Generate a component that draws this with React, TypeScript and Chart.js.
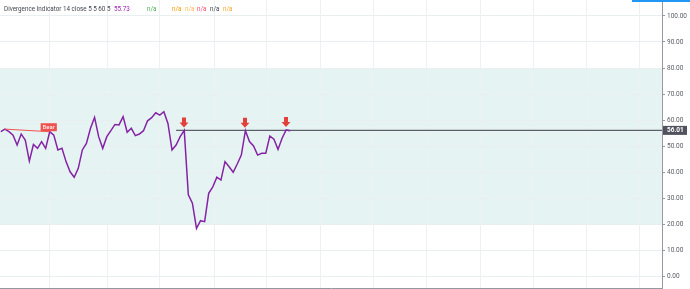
import React, { useEffect, useRef } from "react";
import { Chart, registerables } from "chart.js";
Chart.register(...registerables);

// ---- data ----
const oscValues = [
  55.5, 56.5, 55.5, 54.2, 50.4, 54.6, 52.3, 44.2, 50.6, 49.1, 51.7, 49.1,
  55.5, 54.2, 48.5, 49.1, 44.0, 40.1, 38.0, 41.4, 48.5, 51.0, 56.8, 61.0,
  53.6, 49.1, 53.6, 55.9, 58.3, 58.1, 61.3, 55.3, 56.8, 54.0, 54.6, 55.9,
  59.7, 60.9, 62.8, 61.9, 63.2, 58.7, 48.5, 50.4, 53.6, 56.0, 31.2, 28.0,
  18.3, 21.3, 20.9, 31.8, 34.3, 38.0, 36.9, 44.0, 42.0, 39.9, 43.1, 46.5,
  55.9, 51.7, 50.0, 46.5, 47.2, 47.2, 53.8, 52.6, 48.7, 53.0, 56.2, 55.9,
];
const yTickValues = [0, 10, 20, 30, 40, 50, 60, 70, 80, 90, 100];
const xGridValues = [12, 26.2, 38.9, 52.4, 65.1, 78.4, 91.4, 104.4, 117.6, 130.6, 143.6, 156.6];
const bearIdx = [1, 12];
const bearLabel = "Bear";
const topArrowIdx = [45, 60, 70];
const levelValue = 56.01;
const levelStartIdx = 43;
const bandLow = 20;
const bandHigh = 80;
const xMin = -0.2;
const xMax = 162.2;
const yMin = -4.6;
const yMax = 106.15;

const headerTitle = "Divergence Indicator 14 close 5 5 60 5";
const headerValue = "55.73";
const naLabels = ["n/a", "n/a", "n/a", "n/a", "n/a", "n/a"];
const naColors = ["#4caf50", "#ff9800", "#ffb74d", "#f0506e", "#434651", "#ffa726"];
const naLefts = [147, 172, 185, 197, 210, 223];

const FONT = "Roboto, 'Open Sans', sans-serif";

const overlayPlugin = {
  id: "overlay",
  beforeDraw(chart: any) {
    const { ctx, chartArea, scales } = chart;
    const y = scales.y;
    const top = y.getPixelForValue(bandHigh);
    const bot = y.getPixelForValue(bandLow);
    ctx.save();
    ctx.fillStyle = "rgba(0,150,136,0.1)";
    ctx.fillRect(chartArea.left, top, chartArea.right - chartArea.left, bot - top);
    ctx.restore();
  },
  afterDatasetsDraw(chart: any) {
    const { ctx, scales } = chart;
    const x = scales.x;
    const y = scales.y;
    ctx.save();
    ctx.fillStyle = "#e2403a";
    topArrowIdx.forEach((i) => {
      const px = Math.round(x.getPixelForValue(i));
      const py = y.getPixelForValue(oscValues[i]);
      const tip = py - 3;
      ctx.beginPath();
      ctx.moveTo(px - 2, tip - 10);
      ctx.lineTo(px + 2, tip - 10);
      ctx.lineTo(px + 2, tip - 5);
      ctx.lineTo(px + 4.5, tip - 5);
      ctx.lineTo(px, tip);
      ctx.lineTo(px - 4.5, tip - 5);
      ctx.lineTo(px - 2, tip - 5);
      ctx.closePath();
      ctx.fill();
    });
    const bi = bearIdx[1];
    const bx = x.getPixelForValue(bi);
    const by = y.getPixelForValue(oscValues[bi]);
    ctx.font = `6px ${FONT}`;
    const tw = ctx.measureText(bearLabel).width;
    const w = tw + 4;
    ctx.fillStyle = "#ef5350";
    ctx.fillRect(bx - w / 2 - 1, by - 8.5, w, 8);
    ctx.fillStyle = "#ffffff";
    ctx.textAlign = "center";
    ctx.textBaseline = "middle";
    ctx.fillText(bearLabel, bx - 1, by - 4.3);
    ctx.restore();
  },
  afterDraw(chart: any) {
    const { ctx, scales, chartArea } = chart;
    const y = scales.y;
    const py = y.getPixelForValue(levelValue);
    ctx.save();
    ctx.fillStyle = "#50535e";
    ctx.fillRect(chartArea.right + 1, py - 4.5, 24, 9);
    ctx.fillStyle = "#ffffff";
    ctx.font = `bold 6.5px ${FONT}`;
    ctx.textAlign = "left";
    ctx.textBaseline = "middle";
    ctx.fillText(levelValue.toFixed(2), chartArea.right + 5, py + 0.3);
    ctx.restore();
  },
};

export default function App() {
  const ref = useRef<HTMLCanvasElement | null>(null);
  useEffect(() => {
    document.body.style.margin = "0";
    const canvas = ref.current!;
    const chart = new Chart(canvas, {
      type: "line",
      data: {
        datasets: [
          {
            data: oscValues.map((v, i) => ({ x: i, y: v })),
            borderColor: "#8424a4",
            borderWidth: 1.5,
            pointRadius: 0,
            tension: 0,
            order: 1,
          },
          {
            data: [
              { x: levelStartIdx, y: levelValue },
              { x: xMax, y: levelValue },
            ],
            borderColor: "#5d606b",
            borderWidth: 1.2,
            pointRadius: 0,
            order: 2,
          },
          {
            data: bearIdx.map((i) => ({ x: i, y: oscValues[i] })),
            borderColor: "#ef5350",
            borderWidth: 1,
            pointRadius: 0,
            order: 0,
          },
        ],
      },
      options: {
        animation: false,
        responsive: false,
        maintainAspectRatio: false,
        devicePixelRatio: 1,
        layout: { padding: 0 },
        plugins: { legend: { display: false }, tooltip: { enabled: false } },
        scales: {
          x: {
            type: "linear",
            min: xMin,
            max: xMax,
            afterBuildTicks: (s: any) => {
              s.ticks = xGridValues.map((v) => ({ value: v }));
            },
            afterFit: (s: any) => {
              s.height = 1;
              s.paddingLeft = 0;
              s.paddingRight = 0;
            },
            ticks: { display: false },
            grid: { color: "#eef1f4", drawTicks: false, lineWidth: 1 },
            border: { display: true, color: "#9598a1", width: 1 },
          },
          y: {
            position: "right",
            min: yMin,
            max: yMax,
            afterBuildTicks: (s: any) => {
              s.ticks = yTickValues.map((v) => ({ value: v }));
            },
            afterFit: (s: any) => {
              s.width = 28;
              s.paddingTop = 0;
              s.paddingBottom = 0;
            },
            ticks: {
              color: "#5a5d66",
              font: { size: 6.5, family: FONT },
              padding: 2,
              callback: (v: any) => Number(v).toFixed(2),
            },
            grid: { color: "#e9eef1", tickColor: "#9598a1", tickLength: 3, lineWidth: 1 },
            border: { display: true, color: "#9598a1", width: 1 },
          },
        },
      },
      plugins: [overlayPlugin],
    });
    return () => chart.destroy();
  }, []);

  const textStyle = {
    position: "absolute" as const,
    top: 3,
    fontFamily: FONT,
    fontSize: 6.3,
    lineHeight: "12px",
    whiteSpace: "nowrap" as const,
  };

  return (
    <div style={{ position: "relative", width: 690, height: 289, background: "#fff", overflow: "hidden" }}>
      <canvas ref={ref} width={690} height={289} style={{ display: "block", width: 690, height: 289 }} />
      <div style={{ position: "absolute", left: 632, top: 0, width: 58, height: 2, background: "#2196f3" }} />
      <div style={{ ...textStyle, left: 4, color: "#434651" }}>{headerTitle}</div>
      <div style={{ ...textStyle, left: 114, color: "#9c27b0" }}>{headerValue}</div>
      {naLabels.map((t, i) => (
        <div key={i} style={{ ...textStyle, left: naLefts[i], color: naColors[i] }}>
          {t}
        </div>
      ))}
    </div>
  );
}
